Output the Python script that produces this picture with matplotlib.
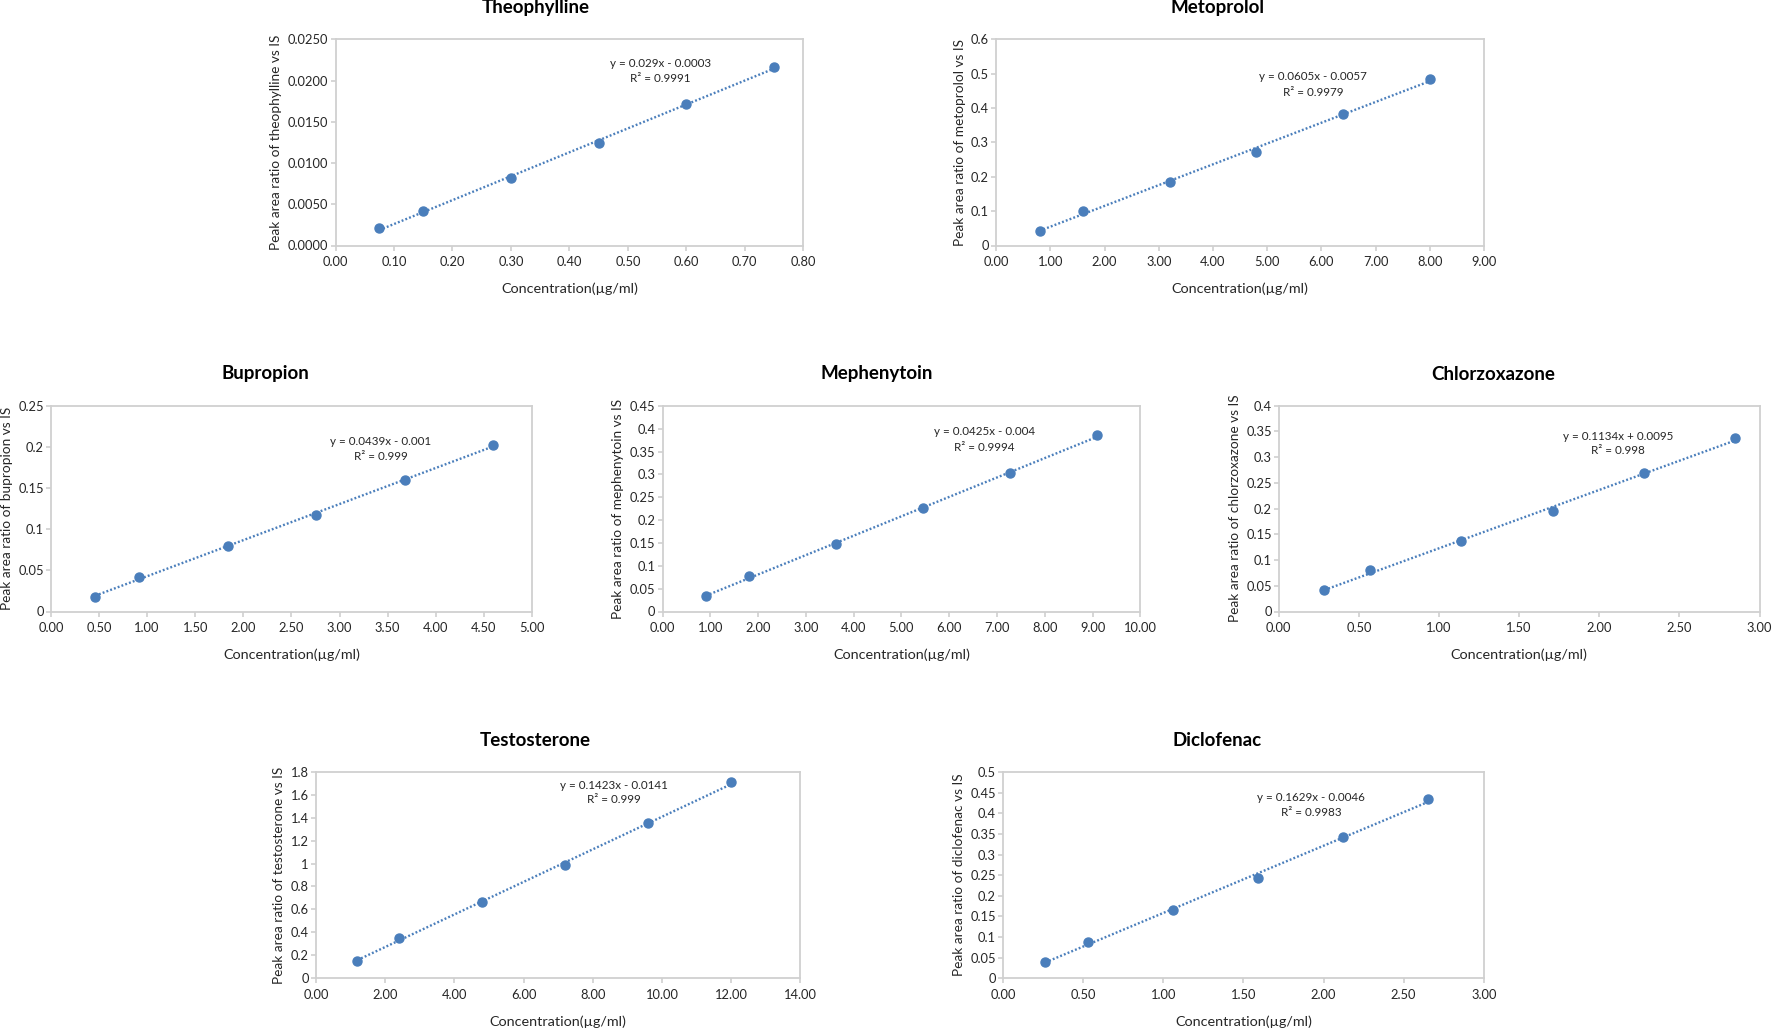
import numpy as np
import matplotlib
matplotlib.use('Agg')
import matplotlib.pyplot as plt
from matplotlib.ticker import MultipleLocator, FuncFormatter

plt.rcParams['font.family'] = ['Lato', 'DejaVu Sans']

# data
theo_x = [0.075, 0.15, 0.30, 0.45, 0.60, 0.75]
theo_y = [0.0021, 0.0042, 0.0082, 0.0124, 0.0172, 0.0216]
meto_x = [0.8, 1.6, 3.2, 4.8, 6.4, 8.0]
meto_y = [0.043, 0.100, 0.185, 0.272, 0.382, 0.485]
bupr_x = [0.46, 0.92, 1.84, 2.76, 3.68, 4.60]
bupr_y = [0.0174, 0.0421, 0.0794, 0.1175, 0.1605, 0.203]
meph_x = [0.91, 1.82, 3.64, 5.46, 7.28, 9.10]
meph_y = [0.034, 0.078, 0.148, 0.2265, 0.3036, 0.3866]
chlo_x = [0.285, 0.57, 1.14, 1.71, 2.28, 2.85]
chlo_y = [0.0427, 0.080, 0.1363, 0.195, 0.2688, 0.3373]
test_x = [1.2, 2.4, 4.8, 7.2, 9.6, 12.0]
test_y = [0.151, 0.352, 0.661, 0.984, 1.351, 1.713]
dicl_x = [0.265, 0.53, 1.06, 1.59, 2.12, 2.65]
dicl_y = [0.0396, 0.0889, 0.1648, 0.244, 0.3417, 0.4338]

names = ['Theophylline', 'Metoprolol', 'Bupropion', 'Mephenytoin',
         'Chlorzoxazone', 'Testosterone', 'Diclofenac']
xs = [theo_x, meto_x, bupr_x, meph_x, chlo_x, test_x, dicl_x]
ys = [theo_y, meto_y, bupr_y, meph_y, chlo_y, test_y, dicl_y]
slopes = [0.029, 0.0605, 0.0439, 0.0425, 0.1134, 0.1423, 0.1629]
intercepts = [-0.0003, -0.0057, -0.001, -0.004, 0.0095, -0.0141, -0.0046]
eq_text = ['y = 0.029x - 0.0003', 'y = 0.0605x - 0.0057', 'y = 0.0439x - 0.001',
           'y = 0.0425x - 0.004', 'y = 0.1134x + 0.0095', 'y = 0.1423x - 0.0141',
           'y = 0.1629x - 0.0046']
r2_text = ['R² = 0.9991', 'R² = 0.9979', 'R² = 0.999', 'R² = 0.9994',
           'R² = 0.998', 'R² = 0.999', 'R² = 0.9983']
xmax = [0.8, 9, 5, 10, 3, 14, 3]
xstep = [0.1, 1, 0.5, 1, 0.5, 2, 0.5]
ymax = [0.025, 0.6, 0.25, 0.45, 0.4, 1.8, 0.5]
ystep = [0.005, 0.1, 0.05, 0.05, 0.05, 0.2, 0.05]
eq_pos = [(0.556, 0.0221, 0.0202), (5.84, 0.492, 0.446), (3.43, 0.2066, 0.188),
          (6.73, 0.394, 0.36), (2.115, 0.341, 0.313), (8.62, 1.686, 1.558),
          (1.922, 0.4386, 0.4015)]

# layout in pixels (left, top, right, bottom) and title centres
W, H = 1772, 1028
boxes = [(335.5, 39.3, 803.3, 245.5), (996.2, 39.3, 1484.1, 245.5),
         (50.9, 406, 531.9, 611.5), (662.5, 406, 1140.4, 611.5),
         (1278.8, 405.7, 1759.5, 611.5), (315.9, 772, 800.4, 978),
         (1002.9, 772, 1483.8, 978.3)]
titles = [(536.1, 7.5), (1217, 7.5), (265.2, 374), (876.8, 374), (1492.8, 374),
          (535.6, 740), (1216.7, 740)]

blue = '#4a7ebb'
grey = '#d0d0d0'
fig = plt.figure(figsize=(W / 100, H / 100), dpi=100)

for i in range(7):
    l, t, r, b = boxes[i]
    ax = fig.add_axes([l / W, 1 - b / H, (r - l) / W, (b - t) / H])
    x = np.array(xs[i])
    ax.plot(x, ys[i], 'o', color=blue, markersize=6.5, zorder=3)
    xl = np.array([x.min(), x.max()])
    ax.plot(xl, slopes[i] * xl + intercepts[i], color=blue, lw=1.7,
            linestyle=(0, (0.8, 0.9)), zorder=2)
    ax.set_xlim(0, xmax[i])
    ax.set_ylim(0, ymax[i])
    ax.xaxis.set_major_locator(MultipleLocator(xstep[i]))
    ax.yaxis.set_major_locator(MultipleLocator(ystep[i]))
    ax.xaxis.set_major_formatter(FuncFormatter(lambda v, p: '%.2f' % v))
    if i == 0:
        ax.yaxis.set_major_formatter(FuncFormatter(lambda v, p: '%.4f' % v))
    else:
        ax.yaxis.set_major_formatter(FuncFormatter(lambda v, p: '%g' % round(v, 4)))
    for s in ax.spines.values():
        s.set_color(grey)
        s.set_linewidth(1.3)
    ax.tick_params(axis='both', colors=grey, labelcolor='#262626', labelsize=9.3,
                   length=3.6, width=1.2)
    ax.tick_params(axis='x', pad=4)
    ax.tick_params(axis='y', pad=1.5)
    ax.set_xlabel('Concentration(µg/ml)', fontsize=10.4, color='#262626', labelpad=10.5)
    ax.set_ylabel('Peak area ratio of ' + names[i].lower() + ' vs IS', fontsize=9.8,
                  color='#262626', labelpad=4)
    ex, ey1, ey2 = eq_pos[i]
    ax.text(ex, ey1, eq_text[i], ha='center', va='center', fontsize=8.4, color='#262626')
    ax.text(ex, ey2, r2_text[i], ha='center', va='center', fontsize=8.4, color='#262626')
    tx, ty = titles[i]
    fig.text(tx / W, 1 - ty / H, names[i], ha='center', va='center',
             fontsize=13.5, fontweight='bold', color='black')

fig.savefig('out.png', dpi=100)
